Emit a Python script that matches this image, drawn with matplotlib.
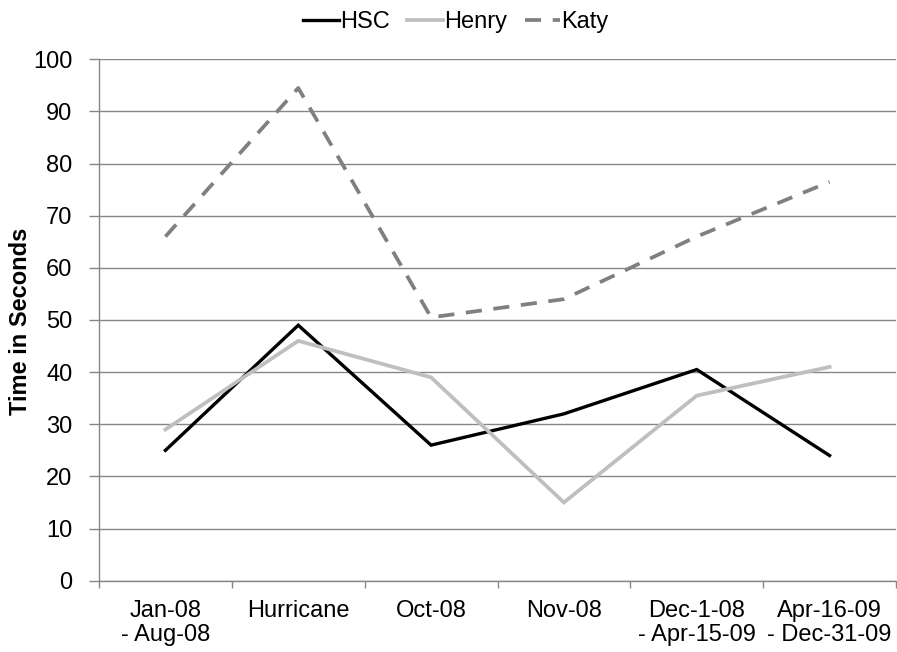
import numpy as np
import matplotlib.pyplot as plt
from matplotlib.ticker import FixedLocator

plt.rcParams["font.family"] = ["Liberation Sans", "DejaVu Sans"]

## Data
periods = ["Jan-08\n- Aug-08", "Hurricane", "Oct-08", "Nov-08",
           "Dec-1-08\n- Apr-15-09", "Apr-16-09\n- Dec-31-09"]
hsc = [25, 49, 26, 32, 40.5, 24]
henry = [29, 46, 39, 15, 35.5, 41]
katy = [66, 94.5, 50.5, 54, 66, 76.5]

grid_grey = "#868686"
fs = 17

fig = plt.figure(figsize=(8.97, 6.52), dpi=100)
ax = fig.add_axes([99 / 897, 71.3 / 652, 797 / 897, 521.4 / 652])

x = np.arange(len(periods))
ax.plot(x, hsc, color="black", lw=2.4, label="HSC", solid_joinstyle="miter")
ax.plot(x, henry, color="#BFBFBF", lw=2.7, label="Henry", solid_joinstyle="miter")
ax.plot(x, katy, color="#808080", lw=2.7, label="Katy", dashes=(4.3, 3.1))

## Axes styling
ax.set_xlim(-0.5, len(periods) - 0.5)
ax.set_ylim(0, 100)
ax.set_yticks(np.arange(0, 101, 10))
ax.yaxis.grid(True, color=grid_grey, lw=1.0)
ax.set_axisbelow(True)

ax.set_xticks(x)
ax.set_xticklabels(periods, fontsize=fs, linespacing=1.12)
ax.xaxis.set_minor_locator(FixedLocator(np.arange(-0.5, len(periods), 1.0)))
ax.tick_params(axis="x", which="major", length=0, pad=14)
ax.tick_params(axis="x", which="minor", length=5, width=1, color=grid_grey)
ax.tick_params(axis="y", length=7, width=1, color=grid_grey, pad=12, labelsize=fs)

for side in ["top", "right"]:
    ax.spines[side].set_visible(False)
for side in ["left", "bottom"]:
    ax.spines[side].set_color(grid_grey)
    ax.spines[side].set_linewidth(1.0)

fig.text(21 / 897, 1 - 321 / 652, "Time in Seconds", rotation=90,
         ha="center", va="center", fontsize=fs, fontweight="bold")

fig.legend(loc="center", bbox_to_anchor=(456 / 897, 1 - 22 / 652), ncol=3,
           frameon=False, fontsize=fs, handlelength=1.5, handletextpad=0.05,
           columnspacing=0.75, borderaxespad=0)

fig.savefig("out.png", dpi=100)
